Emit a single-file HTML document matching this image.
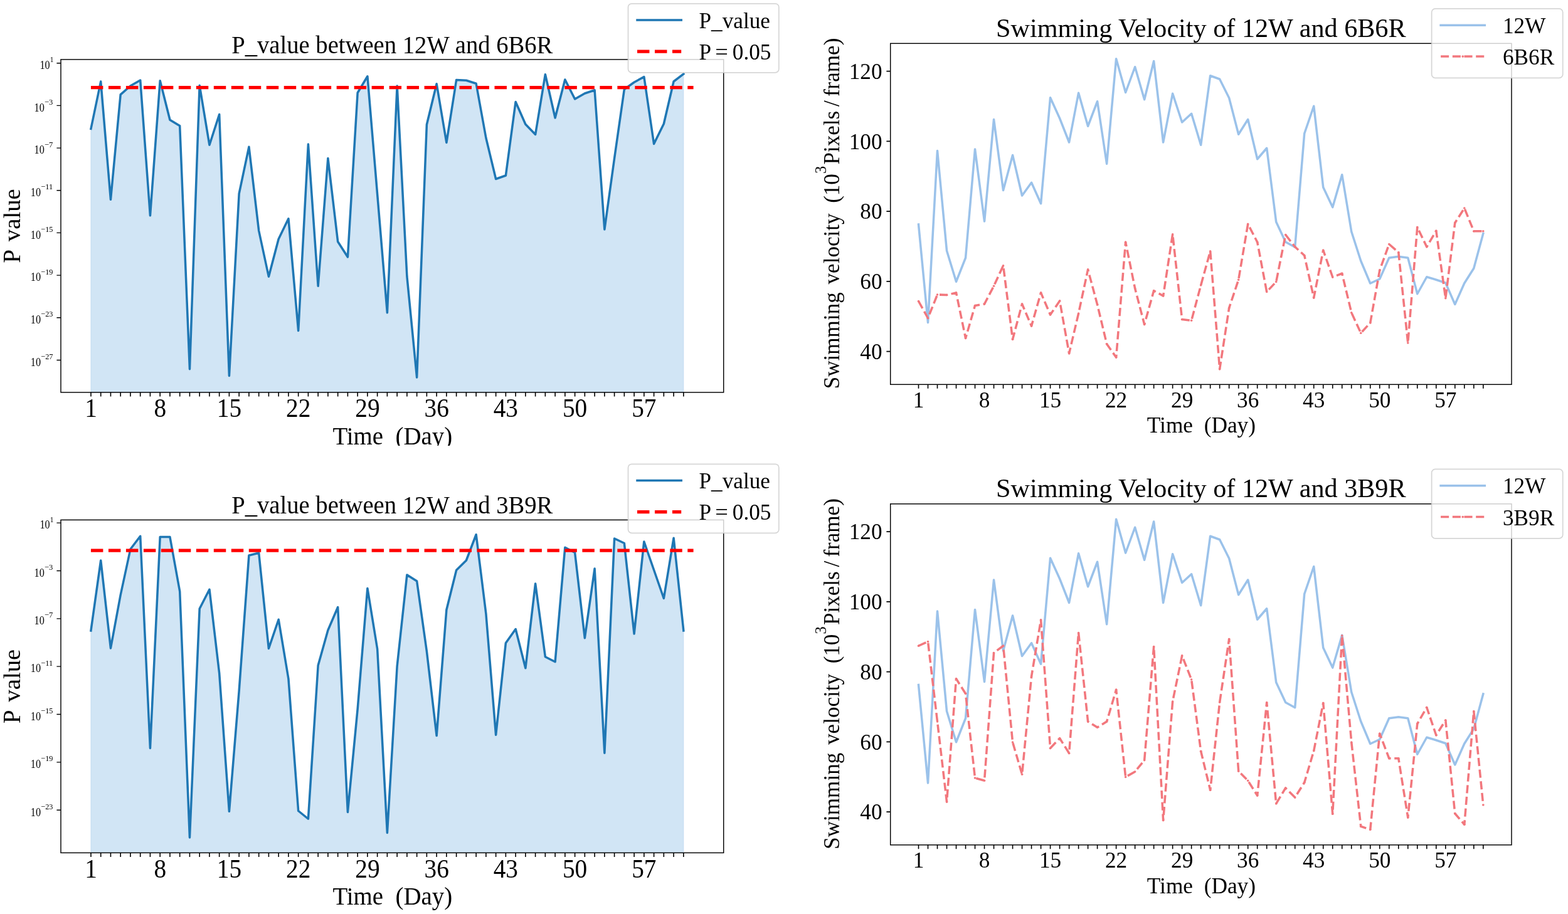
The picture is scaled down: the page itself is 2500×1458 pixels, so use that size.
<!DOCTYPE html>
<html lang="en"><head><meta charset="utf-8"><title>P value and swimming velocity</title>
<style>html,body{margin:0;padding:0;background:#fff}body{width:2500px;height:1458px;overflow:hidden}svg{display:block}text{font-family:'Liberation Serif',serif;fill:#000}</style>
</head><body>
<svg xmlns="http://www.w3.org/2000/svg" width="2500" height="1458" viewBox="0 0 2500 1458">
<defs><clipPath id="cl"><rect x="0" y="0" width="1250" height="711"/></clipPath></defs>
<rect width="2500" height="1458" fill="#fff"/>
<g>
<polygon points="144.95,625.9 144.95,205.5 160.7,130 176.45,318.3 192.19,150.8 207.94,137 223.69,128 239.44,343.8 255.19,128.8 270.93,191.3 286.68,200.8 302.43,588.75 318.18,136.3 333.93,231.3 349.67,182.5 365.42,599.5 381.17,308.8 396.92,234.3 412.67,368 428.41,441.25 444.16,381.25 459.91,348.75 475.66,527.5 491.41,230 507.15,456.25 522.9,252.5 538.65,385.5 554.4,410 570.15,148 585.89,121.75 601.64,310 617.39,498.75 633.14,137 648.89,441 664.63,602 680.38,198.75 696.13,133.75 711.88,227.5 727.63,127.5 743.37,128.25 759.12,133.25 774.87,220 790.62,285.5 806.37,280 822.11,162.5 837.86,198.25 853.61,214.5 869.36,118.75 885.11,188 900.85,127 916.6,158 932.35,149 948.1,143.75 963.85,366 979.59,252.5 995.34,142.5 1011.09,131.25 1026.84,122.5 1042.59,229.5 1058.33,197.5 1074.08,130 1089.83,118 1089.83,625.9" fill="#a4cbeb" fill-opacity="0.5" stroke="#a4cbeb" stroke-opacity="0.5" stroke-width="1"/>
<polyline points="144.95,205.5 160.7,130 176.45,318.3 192.19,150.8 207.94,137 223.69,128 239.44,343.8 255.19,128.8 270.93,191.3 286.68,200.8 302.43,588.75 318.18,136.3 333.93,231.3 349.67,182.5 365.42,599.5 381.17,308.8 396.92,234.3 412.67,368 428.41,441.25 444.16,381.25 459.91,348.75 475.66,527.5 491.41,230 507.15,456.25 522.9,252.5 538.65,385.5 554.4,410 570.15,148 585.89,121.75 601.64,310 617.39,498.75 633.14,137 648.89,441 664.63,602 680.38,198.75 696.13,133.75 711.88,227.5 727.63,127.5 743.37,128.25 759.12,133.25 774.87,220 790.62,285.5 806.37,280 822.11,162.5 837.86,198.25 853.61,214.5 869.36,118.75 885.11,188 900.85,127 916.6,158 932.35,149 948.1,143.75 963.85,366 979.59,252.5 995.34,142.5 1011.09,131.25 1026.84,122.5 1042.59,229.5 1058.33,197.5 1074.08,130 1089.83,118" fill="none" stroke="#1f77b4" stroke-width="3.53" stroke-linejoin="round" stroke-linecap="square"/>
<line x1="144.95" y1="139.63" x2="1105.58" y2="139.63" stroke="#ff0000" stroke-width="5.3" stroke-dasharray="19.45 8.53"/>
<rect x="97" y="94.9" width="1056.7" height="531" fill="none" stroke="#000" stroke-width="1.45"/>
<path d="M144.95 625.9v6.6M160.7 625.9v6.6M176.45 625.9v6.6M192.19 625.9v6.6M207.94 625.9v6.6M223.69 625.9v6.6M239.44 625.9v6.6M255.19 625.9v6.6M270.93 625.9v6.6M286.68 625.9v6.6M302.43 625.9v6.6M318.18 625.9v6.6M333.93 625.9v6.6M349.67 625.9v6.6M365.42 625.9v6.6M381.17 625.9v6.6M396.92 625.9v6.6M412.67 625.9v6.6M428.41 625.9v6.6M444.16 625.9v6.6M459.91 625.9v6.6M475.66 625.9v6.6M491.41 625.9v6.6M507.15 625.9v6.6M522.9 625.9v6.6M538.65 625.9v6.6M554.4 625.9v6.6M570.15 625.9v6.6M585.89 625.9v6.6M601.64 625.9v6.6M617.39 625.9v6.6M633.14 625.9v6.6M648.89 625.9v6.6M664.63 625.9v6.6M680.38 625.9v6.6M696.13 625.9v6.6M711.88 625.9v6.6M727.63 625.9v6.6M743.37 625.9v6.6M759.12 625.9v6.6M774.87 625.9v6.6M790.62 625.9v6.6M806.37 625.9v6.6M822.11 625.9v6.6M837.86 625.9v6.6M853.61 625.9v6.6M869.36 625.9v6.6M885.11 625.9v6.6M900.85 625.9v6.6M916.6 625.9v6.6M932.35 625.9v6.6M948.1 625.9v6.6M963.85 625.9v6.6M979.59 625.9v6.6M995.34 625.9v6.6M1011.09 625.9v6.6M1026.84 625.9v6.6M1042.59 625.9v6.6M1058.33 625.9v6.6M1074.08 625.9v6.6M1089.83 625.9v6.6" stroke="#000" stroke-width="1.6" fill="none"/>
<text transform="translate(144.95 665) scale(1 1.05)" font-size="39.3" text-anchor="middle">1</text>
<text transform="translate(255.19 665) scale(1 1.05)" font-size="39.3" text-anchor="middle">8</text>
<text transform="translate(365.42 665) scale(1 1.05)" font-size="39.3" text-anchor="middle">15</text>
<text transform="translate(475.66 665) scale(1 1.05)" font-size="39.3" text-anchor="middle">22</text>
<text transform="translate(585.89 665) scale(1 1.05)" font-size="39.3" text-anchor="middle">29</text>
<text transform="translate(696.13 665) scale(1 1.05)" font-size="39.3" text-anchor="middle">36</text>
<text transform="translate(806.37 665) scale(1 1.05)" font-size="39.3" text-anchor="middle">43</text>
<text transform="translate(916.6 665) scale(1 1.05)" font-size="39.3" text-anchor="middle">50</text>
<text transform="translate(1026.84 665) scale(1 1.05)" font-size="39.3" text-anchor="middle">57</text>
<text transform="translate(85.6 99.2) scale(1 1.07)" font-size="12.4" text-anchor="end" textLength="5.75" lengthAdjust="spacingAndGlyphs">1</text>
<text transform="translate(79.65 110) scale(1 1.036)" font-size="17.6" text-anchor="end" textLength="16.2" lengthAdjust="spacingAndGlyphs">10</text>
<text transform="translate(84.4 166.88) scale(1 1.07)" font-size="12.4" text-anchor="end" textLength="13.44" lengthAdjust="spacingAndGlyphs">−3</text>
<text transform="translate(70.76 177.68) scale(1 1.036)" font-size="17.6" text-anchor="end" textLength="16.2" lengthAdjust="spacingAndGlyphs">10</text>
<text transform="translate(84.4 234.56) scale(1 1.07)" font-size="12.4" text-anchor="end" textLength="13.44" lengthAdjust="spacingAndGlyphs">−7</text>
<text transform="translate(70.76 245.36) scale(1 1.036)" font-size="17.6" text-anchor="end" textLength="16.2" lengthAdjust="spacingAndGlyphs">10</text>
<text transform="translate(84.4 302.24) scale(1 1.07)" font-size="12.4" text-anchor="end" textLength="19.19" lengthAdjust="spacingAndGlyphs">−11</text>
<text transform="translate(65.01 313.04) scale(1 1.036)" font-size="17.6" text-anchor="end" textLength="16.2" lengthAdjust="spacingAndGlyphs">10</text>
<text transform="translate(84.4 369.92) scale(1 1.07)" font-size="12.4" text-anchor="end" textLength="19.19" lengthAdjust="spacingAndGlyphs">−15</text>
<text transform="translate(65.01 380.72) scale(1 1.036)" font-size="17.6" text-anchor="end" textLength="16.2" lengthAdjust="spacingAndGlyphs">10</text>
<text transform="translate(84.4 437.6) scale(1 1.07)" font-size="12.4" text-anchor="end" textLength="19.19" lengthAdjust="spacingAndGlyphs">−19</text>
<text transform="translate(65.01 448.4) scale(1 1.036)" font-size="17.6" text-anchor="end" textLength="16.2" lengthAdjust="spacingAndGlyphs">10</text>
<text transform="translate(84.4 505.28) scale(1 1.07)" font-size="12.4" text-anchor="end" textLength="19.19" lengthAdjust="spacingAndGlyphs">−23</text>
<text transform="translate(65.01 516.08) scale(1 1.036)" font-size="17.6" text-anchor="end" textLength="16.2" lengthAdjust="spacingAndGlyphs">10</text>
<text transform="translate(84.4 572.96) scale(1 1.07)" font-size="12.4" text-anchor="end" textLength="19.19" lengthAdjust="spacingAndGlyphs">−27</text>
<text transform="translate(65.01 583.76) scale(1 1.036)" font-size="17.6" text-anchor="end" textLength="16.2" lengthAdjust="spacingAndGlyphs">10</text>
<path d="M97 100.7h-6.6M97 168.38h-6.6M97 236.06h-6.6M97 303.74h-6.6M97 371.42h-6.6M97 439.1h-6.6M97 506.78h-6.6M97 574.46h-6.6" stroke="#000" stroke-width="1.35" fill="none"/>
<text transform="translate(625.3 84.7) scale(1 1.02)" font-size="38.65" text-anchor="middle">P_value between 12W and 6B6R</text>
<g clip-path="url(#cl)">
<text transform="translate(625.8 708.7) scale(1 1.02)" font-size="38.9" text-anchor="middle">Time  (Day)</text>
</g>
<text transform="translate(32.4 419.5) rotate(-90) scale(1 1.03)" font-size="38.8" text-anchor="start">P</text>
<text transform="translate(32.4 385.2) rotate(-90)" font-size="38.8" text-anchor="start">value</text>
<rect x="1001.5" y="5.75" width="240.3" height="110.15" rx="5.8" ry="5.8" fill="#fff" fill-opacity="0.8" stroke="#ccc" stroke-opacity="0.8" stroke-width="1.75"/>
<line x1="1016" y1="32" x2="1086.2" y2="32" stroke="#1f77b4" stroke-width="3.53" stroke-linecap="square"/>
<line x1="1016" y1="82.15" x2="1086.2" y2="82.15" stroke="#ff0000" stroke-width="5.3" stroke-dasharray="19.45 8.53"/>
<text x="1114.5" y="44.9" font-size="35.2">P_value</text>
<text x="1114.5" y="94.8" font-size="35.2">P</text>
<text x="1150.6" y="94.8" font-size="35.2" text-anchor="middle" textLength="20.6" lengthAdjust="spacingAndGlyphs">=</text>
<text x="1167.8" y="94.8" font-size="35.2">0.05</text>
</g>
<g>
<polyline points="1464.5,358 1479.51,514.5 1494.51,240.5 1509.52,400 1524.52,449.25 1539.53,411.25 1554.53,238 1569.54,353 1584.54,190.5 1599.55,303.5 1614.55,247.5 1629.56,312 1644.56,291.25 1659.57,324.75 1674.57,155.75 1689.58,188.75 1704.58,227 1719.59,148.25 1734.59,201.25 1749.6,161.75 1764.6,261.25 1779.61,93.75 1794.61,147.5 1809.62,106.75 1824.62,158.75 1839.62,97.5 1854.63,227 1869.63,149.25 1884.64,195 1899.64,181.25 1914.65,231.25 1929.65,120.75 1944.66,126.25 1959.66,156.25 1974.67,214.25 1989.68,190.5 2004.68,253.75 2019.68,236.25 2034.69,354 2049.7,386 2064.7,394.2 2079.7,213 2094.71,169.25 2109.72,298.75 2124.72,330.6 2139.72,278.75 2154.73,369.5 2169.74,416.25 2184.74,452 2199.74,445 2214.75,411.25 2229.76,409.25 2244.76,411.25 2259.76,468.75 2274.77,441.75 2289.78,446.25 2304.78,451.25 2319.78,485.5 2334.79,451.75 2349.8,428 2364.8,372.5" fill="none" stroke="#9bc2ea" stroke-width="3.53" stroke-linejoin="round" stroke-linecap="square"/>
<polyline points="1464.5,480.5 1479.51,507.5 1494.51,470 1509.52,470.5 1524.52,467 1539.53,539.5 1554.53,487.5 1569.54,485 1584.54,456.25 1599.55,423.75 1614.55,541.25 1629.56,485 1644.56,520 1659.57,467 1674.57,502 1689.58,480 1704.58,563.75 1719.59,500 1734.59,430 1749.6,486 1764.6,548.75 1779.61,570 1794.61,386.25 1809.62,460 1824.62,517.5 1839.62,463.75 1854.63,472 1869.63,373.75 1884.64,509.5 1899.64,511.25 1914.65,455 1929.65,400.75 1944.66,588.75 1959.66,491.25 1974.67,446.25 1989.68,357.5 2004.68,386.25 2019.68,465.5 2034.69,449.5 2049.7,374.5 2064.7,393.75 2079.7,407.5 2094.71,475 2109.72,399.25 2124.72,442 2139.72,436.25 2154.73,498.75 2169.74,531.25 2184.74,515 2199.74,431.25 2214.75,389.5 2229.76,402.5 2244.76,547 2259.76,362.5 2274.77,393.75 2289.78,368.25 2304.78,475.75 2319.78,355.5 2334.79,332 2349.8,368.75 2364.8,368.75" fill="none" stroke="#f2777d" stroke-width="3.53" stroke-linejoin="round" stroke-dasharray="13.05 5.65"/>
<g fill="#f2777d"><circle cx="1464.5" cy="480.5" r="1.8"/><circle cx="1479.51" cy="507.5" r="1.8"/><circle cx="1494.51" cy="470" r="1.8"/><circle cx="1509.52" cy="470.5" r="1.8"/><circle cx="1524.52" cy="467" r="1.8"/><circle cx="1539.53" cy="539.5" r="1.8"/><circle cx="1554.53" cy="487.5" r="1.8"/><circle cx="1569.54" cy="485" r="1.8"/><circle cx="1584.54" cy="456.25" r="1.8"/><circle cx="1599.55" cy="423.75" r="1.8"/><circle cx="1614.55" cy="541.25" r="1.8"/><circle cx="1629.56" cy="485" r="1.8"/><circle cx="1644.56" cy="520" r="1.8"/><circle cx="1659.57" cy="467" r="1.8"/><circle cx="1674.57" cy="502" r="1.8"/><circle cx="1689.58" cy="480" r="1.8"/><circle cx="1704.58" cy="563.75" r="1.8"/><circle cx="1719.59" cy="500" r="1.8"/><circle cx="1734.59" cy="430" r="1.8"/><circle cx="1749.6" cy="486" r="1.8"/><circle cx="1764.6" cy="548.75" r="1.8"/><circle cx="1779.61" cy="570" r="1.8"/><circle cx="1794.61" cy="386.25" r="1.8"/><circle cx="1809.62" cy="460" r="1.8"/><circle cx="1824.62" cy="517.5" r="1.8"/><circle cx="1839.62" cy="463.75" r="1.8"/><circle cx="1854.63" cy="472" r="1.8"/><circle cx="1869.63" cy="373.75" r="1.8"/><circle cx="1884.64" cy="509.5" r="1.8"/><circle cx="1899.64" cy="511.25" r="1.8"/><circle cx="1914.65" cy="455" r="1.8"/><circle cx="1929.65" cy="400.75" r="1.8"/><circle cx="1944.66" cy="588.75" r="1.8"/><circle cx="1959.66" cy="491.25" r="1.8"/><circle cx="1974.67" cy="446.25" r="1.8"/><circle cx="1989.68" cy="357.5" r="1.8"/><circle cx="2004.68" cy="386.25" r="1.8"/><circle cx="2019.68" cy="465.5" r="1.8"/><circle cx="2034.69" cy="449.5" r="1.8"/><circle cx="2049.7" cy="374.5" r="1.8"/><circle cx="2064.7" cy="393.75" r="1.8"/><circle cx="2079.7" cy="407.5" r="1.8"/><circle cx="2094.71" cy="475" r="1.8"/><circle cx="2109.72" cy="399.25" r="1.8"/><circle cx="2124.72" cy="442" r="1.8"/><circle cx="2139.72" cy="436.25" r="1.8"/><circle cx="2154.73" cy="498.75" r="1.8"/><circle cx="2169.74" cy="531.25" r="1.8"/><circle cx="2184.74" cy="515" r="1.8"/><circle cx="2199.74" cy="431.25" r="1.8"/><circle cx="2214.75" cy="389.5" r="1.8"/><circle cx="2229.76" cy="402.5" r="1.8"/><circle cx="2244.76" cy="547" r="1.8"/><circle cx="2259.76" cy="362.5" r="1.8"/><circle cx="2274.77" cy="393.75" r="1.8"/><circle cx="2289.78" cy="368.25" r="1.8"/><circle cx="2304.78" cy="475.75" r="1.8"/><circle cx="2319.78" cy="355.5" r="1.8"/><circle cx="2334.79" cy="332" r="1.8"/><circle cx="2349.8" cy="368.75" r="1.8"/><circle cx="2364.8" cy="368.75" r="1.8"/></g>
<rect x="1419.7" y="69.3" width="990.3" height="544" fill="none" stroke="#000" stroke-width="1.45"/>
<path d="M1464.5 613.3v6.3999999999999995M1479.51 613.3v6.3999999999999995M1494.51 613.3v6.3999999999999995M1509.52 613.3v6.3999999999999995M1524.52 613.3v6.3999999999999995M1539.53 613.3v6.3999999999999995M1554.53 613.3v6.3999999999999995M1569.54 613.3v6.3999999999999995M1584.54 613.3v6.3999999999999995M1599.55 613.3v6.3999999999999995M1614.55 613.3v6.3999999999999995M1629.56 613.3v6.3999999999999995M1644.56 613.3v6.3999999999999995M1659.57 613.3v6.3999999999999995M1674.57 613.3v6.3999999999999995M1689.58 613.3v6.3999999999999995M1704.58 613.3v6.3999999999999995M1719.59 613.3v6.3999999999999995M1734.59 613.3v6.3999999999999995M1749.6 613.3v6.3999999999999995M1764.6 613.3v6.3999999999999995M1779.61 613.3v6.3999999999999995M1794.61 613.3v6.3999999999999995M1809.62 613.3v6.3999999999999995M1824.62 613.3v6.3999999999999995M1839.62 613.3v6.3999999999999995M1854.63 613.3v6.3999999999999995M1869.63 613.3v6.3999999999999995M1884.64 613.3v6.3999999999999995M1899.64 613.3v6.3999999999999995M1914.65 613.3v6.3999999999999995M1929.65 613.3v6.3999999999999995M1944.66 613.3v6.3999999999999995M1959.66 613.3v6.3999999999999995M1974.67 613.3v6.3999999999999995M1989.68 613.3v6.3999999999999995M2004.68 613.3v6.3999999999999995M2019.68 613.3v6.3999999999999995M2034.69 613.3v6.3999999999999995M2049.7 613.3v6.3999999999999995M2064.7 613.3v6.3999999999999995M2079.7 613.3v6.3999999999999995M2094.71 613.3v6.3999999999999995M2109.72 613.3v6.3999999999999995M2124.72 613.3v6.3999999999999995M2139.72 613.3v6.3999999999999995M2154.73 613.3v6.3999999999999995M2169.74 613.3v6.3999999999999995M2184.74 613.3v6.3999999999999995M2199.74 613.3v6.3999999999999995M2214.75 613.3v6.3999999999999995M2229.76 613.3v6.3999999999999995M2244.76 613.3v6.3999999999999995M2259.76 613.3v6.3999999999999995M2274.77 613.3v6.3999999999999995M2289.78 613.3v6.3999999999999995M2304.78 613.3v6.3999999999999995M2319.78 613.3v6.3999999999999995M2334.79 613.3v6.3999999999999995M2349.8 613.3v6.3999999999999995M2364.8 613.3v6.3999999999999995" stroke="#000" stroke-width="1.6" fill="none"/>
<text x="1464.5" y="649.9" font-size="35.2" text-anchor="middle">1</text>
<text x="1569.54" y="649.9" font-size="35.2" text-anchor="middle">8</text>
<text x="1674.57" y="649.9" font-size="35.2" text-anchor="middle">15</text>
<text x="1779.61" y="649.9" font-size="35.2" text-anchor="middle">22</text>
<text x="1884.64" y="649.9" font-size="35.2" text-anchor="middle">29</text>
<text x="1989.68" y="649.9" font-size="35.2" text-anchor="middle">36</text>
<text x="2094.71" y="649.9" font-size="35.2" text-anchor="middle">43</text>
<text x="2199.74" y="649.9" font-size="35.2" text-anchor="middle">50</text>
<text x="2304.78" y="649.9" font-size="35.2" text-anchor="middle">57</text>
<text x="1406.5" y="572.95" font-size="35.2" text-anchor="end">40</text>
<text x="1406.5" y="461.2" font-size="35.2" text-anchor="end">60</text>
<text x="1406.5" y="349.45" font-size="35.2" text-anchor="end">80</text>
<text x="1406.5" y="237.7" font-size="35.2" text-anchor="end">100</text>
<text x="1406.5" y="125.95" font-size="35.2" text-anchor="end">120</text>
<path d="M1419.7 560.65h-6.3M1419.7 448.9h-6.3M1419.7 337.15h-6.3M1419.7 225.4h-6.3M1419.7 113.65h-6.3" stroke="#000" stroke-width="1.6" fill="none"/>
<text x="1914.85" y="58.9" font-size="42.2" text-anchor="middle">Swimming Velocity of 12W and 6B6R</text>
<text x="1915.4" y="690.4" font-size="35.3" text-anchor="middle">Time  (Day)</text>
<text transform="translate(1337.8 620.25) rotate(-90)" font-size="35.1" text-anchor="start">Swimming</text>
<text transform="translate(1337.8 453.45) rotate(-90)" font-size="35.1" text-anchor="start">velocity</text>
<text transform="translate(1337.8 323.85) rotate(-90)" font-size="35.1" text-anchor="start">(10</text>
<text transform="translate(1317.3 276.95) rotate(-90)" font-size="24.6" text-anchor="start">3</text>
<text transform="translate(1337.8 262.55) rotate(-90)" font-size="35.1" text-anchor="start">Pixels</text>
<text transform="translate(1337.8 170.05) rotate(-90)" font-size="35.1" text-anchor="start">/</text>
<text transform="translate(1337.8 154.1) rotate(-90)" font-size="35.1" text-anchor="start">frame)</text>
<rect x="2282.6" y="13.9" width="209.1" height="110.5" rx="5.8" ry="5.8" fill="#fff" fill-opacity="0.8" stroke="#ccc" stroke-opacity="0.8" stroke-width="1.75"/>
<line x1="2297.1" y1="40.15" x2="2367.3" y2="40.15" stroke="#9bc2ea" stroke-width="3.53" stroke-linecap="square"/>
<line x1="2297.1" y1="90.1" x2="2367.3" y2="90.1" stroke="#f2777d" stroke-width="3.53" stroke-dasharray="13.05 5.65"/>
<circle cx="2332.2" cy="90.1" r="1.8" fill="#f2777d"/>
<text x="2396" y="52.9" font-size="35.2">12W</text>
<text x="2396" y="103.4" font-size="35.2">6B6R</text>
</g>
<g>
<polygon points="144.95,1360.4 144.95,1006 160.7,894 176.45,1034 192.19,949 207.94,876 223.69,855.25 239.44,1193.5 255.19,856.5 270.93,856.5 286.68,943.5 302.43,1336 318.18,971 333.93,940.25 349.67,1074 365.42,1294.25 381.17,1102 396.92,886 412.67,882 428.41,1034.5 444.16,988.25 459.91,1082.75 475.66,1293.5 491.41,1306.25 507.15,1061.5 522.9,1005.25 538.65,968.5 554.4,1295.5 570.15,1131 585.89,938.5 601.64,1035.25 617.39,1328.5 633.14,1062.75 648.89,917 664.63,927 680.38,1039 696.13,1173.5 711.88,972.75 727.63,909.5 743.37,894 759.12,852.75 774.87,979 790.62,1172.25 806.37,1025.75 822.11,1003.5 837.86,1065.75 853.61,931 869.36,1047.75 885.11,1055.75 900.85,873.25 916.6,881.5 932.35,1017.75 948.1,907 963.85,1201.25 979.59,859 995.34,866.5 1011.09,1011 1026.84,864 1042.59,909.25 1058.33,954.5 1074.08,858.25 1089.83,1006 1089.83,1360.4" fill="#a4cbeb" fill-opacity="0.5" stroke="#a4cbeb" stroke-opacity="0.5" stroke-width="1"/>
<polyline points="144.95,1006 160.7,894 176.45,1034 192.19,949 207.94,876 223.69,855.25 239.44,1193.5 255.19,856.5 270.93,856.5 286.68,943.5 302.43,1336 318.18,971 333.93,940.25 349.67,1074 365.42,1294.25 381.17,1102 396.92,886 412.67,882 428.41,1034.5 444.16,988.25 459.91,1082.75 475.66,1293.5 491.41,1306.25 507.15,1061.5 522.9,1005.25 538.65,968.5 554.4,1295.5 570.15,1131 585.89,938.5 601.64,1035.25 617.39,1328.5 633.14,1062.75 648.89,917 664.63,927 680.38,1039 696.13,1173.5 711.88,972.75 727.63,909.5 743.37,894 759.12,852.75 774.87,979 790.62,1172.25 806.37,1025.75 822.11,1003.5 837.86,1065.75 853.61,931 869.36,1047.75 885.11,1055.75 900.85,873.25 916.6,881.5 932.35,1017.75 948.1,907 963.85,1201.25 979.59,859 995.34,866.5 1011.09,1011 1026.84,864 1042.59,909.25 1058.33,954.5 1074.08,858.25 1089.83,1006" fill="none" stroke="#1f77b4" stroke-width="3.53" stroke-linejoin="round" stroke-linecap="square"/>
<line x1="144.95" y1="878.03" x2="1105.58" y2="878.03" stroke="#ff0000" stroke-width="5.3" stroke-dasharray="19.45 8.53"/>
<rect x="97" y="829.4" width="1056.7" height="531" fill="none" stroke="#000" stroke-width="1.45"/>
<path d="M144.95 1360.4v6.6M160.7 1360.4v6.6M176.45 1360.4v6.6M192.19 1360.4v6.6M207.94 1360.4v6.6M223.69 1360.4v6.6M239.44 1360.4v6.6M255.19 1360.4v6.6M270.93 1360.4v6.6M286.68 1360.4v6.6M302.43 1360.4v6.6M318.18 1360.4v6.6M333.93 1360.4v6.6M349.67 1360.4v6.6M365.42 1360.4v6.6M381.17 1360.4v6.6M396.92 1360.4v6.6M412.67 1360.4v6.6M428.41 1360.4v6.6M444.16 1360.4v6.6M459.91 1360.4v6.6M475.66 1360.4v6.6M491.41 1360.4v6.6M507.15 1360.4v6.6M522.9 1360.4v6.6M538.65 1360.4v6.6M554.4 1360.4v6.6M570.15 1360.4v6.6M585.89 1360.4v6.6M601.64 1360.4v6.6M617.39 1360.4v6.6M633.14 1360.4v6.6M648.89 1360.4v6.6M664.63 1360.4v6.6M680.38 1360.4v6.6M696.13 1360.4v6.6M711.88 1360.4v6.6M727.63 1360.4v6.6M743.37 1360.4v6.6M759.12 1360.4v6.6M774.87 1360.4v6.6M790.62 1360.4v6.6M806.37 1360.4v6.6M822.11 1360.4v6.6M837.86 1360.4v6.6M853.61 1360.4v6.6M869.36 1360.4v6.6M885.11 1360.4v6.6M900.85 1360.4v6.6M916.6 1360.4v6.6M932.35 1360.4v6.6M948.1 1360.4v6.6M963.85 1360.4v6.6M979.59 1360.4v6.6M995.34 1360.4v6.6M1011.09 1360.4v6.6M1026.84 1360.4v6.6M1042.59 1360.4v6.6M1058.33 1360.4v6.6M1074.08 1360.4v6.6M1089.83 1360.4v6.6" stroke="#000" stroke-width="1.6" fill="none"/>
<text transform="translate(144.95 1399.5) scale(1 1.05)" font-size="39.3" text-anchor="middle">1</text>
<text transform="translate(255.19 1399.5) scale(1 1.05)" font-size="39.3" text-anchor="middle">8</text>
<text transform="translate(365.42 1399.5) scale(1 1.05)" font-size="39.3" text-anchor="middle">15</text>
<text transform="translate(475.66 1399.5) scale(1 1.05)" font-size="39.3" text-anchor="middle">22</text>
<text transform="translate(585.89 1399.5) scale(1 1.05)" font-size="39.3" text-anchor="middle">29</text>
<text transform="translate(696.13 1399.5) scale(1 1.05)" font-size="39.3" text-anchor="middle">36</text>
<text transform="translate(806.37 1399.5) scale(1 1.05)" font-size="39.3" text-anchor="middle">43</text>
<text transform="translate(916.6 1399.5) scale(1 1.05)" font-size="39.3" text-anchor="middle">50</text>
<text transform="translate(1026.84 1399.5) scale(1 1.05)" font-size="39.3" text-anchor="middle">57</text>
<text transform="translate(85.6 832.6) scale(1 1.07)" font-size="12.4" text-anchor="end" textLength="5.75" lengthAdjust="spacingAndGlyphs">1</text>
<text transform="translate(79.65 843.4) scale(1 1.036)" font-size="17.6" text-anchor="end" textLength="16.2" lengthAdjust="spacingAndGlyphs">10</text>
<text transform="translate(84.4 908.96) scale(1 1.07)" font-size="12.4" text-anchor="end" textLength="13.44" lengthAdjust="spacingAndGlyphs">−3</text>
<text transform="translate(70.76 919.76) scale(1 1.036)" font-size="17.6" text-anchor="end" textLength="16.2" lengthAdjust="spacingAndGlyphs">10</text>
<text transform="translate(84.4 985.32) scale(1 1.07)" font-size="12.4" text-anchor="end" textLength="13.44" lengthAdjust="spacingAndGlyphs">−7</text>
<text transform="translate(70.76 996.12) scale(1 1.036)" font-size="17.6" text-anchor="end" textLength="16.2" lengthAdjust="spacingAndGlyphs">10</text>
<text transform="translate(84.4 1061.68) scale(1 1.07)" font-size="12.4" text-anchor="end" textLength="19.19" lengthAdjust="spacingAndGlyphs">−11</text>
<text transform="translate(65.01 1072.48) scale(1 1.036)" font-size="17.6" text-anchor="end" textLength="16.2" lengthAdjust="spacingAndGlyphs">10</text>
<text transform="translate(84.4 1138.04) scale(1 1.07)" font-size="12.4" text-anchor="end" textLength="19.19" lengthAdjust="spacingAndGlyphs">−15</text>
<text transform="translate(65.01 1148.84) scale(1 1.036)" font-size="17.6" text-anchor="end" textLength="16.2" lengthAdjust="spacingAndGlyphs">10</text>
<text transform="translate(84.4 1214.4) scale(1 1.07)" font-size="12.4" text-anchor="end" textLength="19.19" lengthAdjust="spacingAndGlyphs">−19</text>
<text transform="translate(65.01 1225.2) scale(1 1.036)" font-size="17.6" text-anchor="end" textLength="16.2" lengthAdjust="spacingAndGlyphs">10</text>
<text transform="translate(84.4 1290.76) scale(1 1.07)" font-size="12.4" text-anchor="end" textLength="19.19" lengthAdjust="spacingAndGlyphs">−23</text>
<text transform="translate(65.01 1301.56) scale(1 1.036)" font-size="17.6" text-anchor="end" textLength="16.2" lengthAdjust="spacingAndGlyphs">10</text>
<path d="M97 834.1h-6.6M97 910.46h-6.6M97 986.82h-6.6M97 1063.18h-6.6M97 1139.54h-6.6M97 1215.9h-6.6M97 1292.26h-6.6" stroke="#000" stroke-width="1.35" fill="none"/>
<text transform="translate(625.3 819.2) scale(1 1.02)" font-size="38.65" text-anchor="middle">P_value between 12W and 3B9R</text>
<text transform="translate(625.8 1443.2) scale(1 1.02)" font-size="38.9" text-anchor="middle">Time  (Day)</text>
<text transform="translate(32.4 1154) rotate(-90) scale(1 1.03)" font-size="38.8" text-anchor="start">P</text>
<text transform="translate(32.4 1119.7) rotate(-90)" font-size="38.8" text-anchor="start">value</text>
<rect x="1001.5" y="740.25" width="240.3" height="110.15" rx="5.8" ry="5.8" fill="#fff" fill-opacity="0.8" stroke="#ccc" stroke-opacity="0.8" stroke-width="1.75"/>
<line x1="1016" y1="766.5" x2="1086.2" y2="766.5" stroke="#1f77b4" stroke-width="3.53" stroke-linecap="square"/>
<line x1="1016" y1="816.65" x2="1086.2" y2="816.65" stroke="#ff0000" stroke-width="5.3" stroke-dasharray="19.45 8.53"/>
<text x="1114.5" y="779.4" font-size="35.2">P_value</text>
<text x="1114.5" y="829.3" font-size="35.2">P</text>
<text x="1150.6" y="829.3" font-size="35.2" text-anchor="middle" textLength="20.6" lengthAdjust="spacingAndGlyphs">=</text>
<text x="1167.8" y="829.3" font-size="35.2">0.05</text>
</g>
<g>
<polyline points="1464.5,1092.5 1479.51,1249 1494.51,975 1509.52,1134.5 1524.52,1183.75 1539.53,1145.75 1554.53,972.5 1569.54,1087.5 1584.54,925 1599.55,1038 1614.55,982 1629.56,1046.5 1644.56,1025.75 1659.57,1059.25 1674.57,890.25 1689.58,923.25 1704.58,961.5 1719.59,882.75 1734.59,935.75 1749.6,896.25 1764.6,995.75 1779.61,828.25 1794.61,882 1809.62,841.25 1824.62,893.25 1839.62,832 1854.63,961.5 1869.63,883.75 1884.64,929.5 1899.64,915.75 1914.65,965.75 1929.65,855.25 1944.66,860.75 1959.66,890.75 1974.67,948.75 1989.68,925 2004.68,988.25 2019.68,970.75 2034.69,1088.5 2049.7,1120.5 2064.7,1128.7 2079.7,947.5 2094.71,903.75 2109.72,1033.25 2124.72,1065.1 2139.72,1013.25 2154.73,1104 2169.74,1150.75 2184.74,1186.5 2199.74,1179.5 2214.75,1145.75 2229.76,1143.75 2244.76,1145.75 2259.76,1203.25 2274.77,1176.25 2289.78,1180.75 2304.78,1185.75 2319.78,1220 2334.79,1186.25 2349.8,1162.5 2364.8,1107" fill="none" stroke="#9bc2ea" stroke-width="3.53" stroke-linejoin="round" stroke-linecap="square"/>
<polyline points="1464.5,1030.25 1479.51,1023.5 1494.51,1151 1509.52,1279 1524.52,1082.75 1539.53,1106.5 1554.53,1241 1569.54,1245.25 1584.54,1041.5 1599.55,1030.25 1614.55,1184 1629.56,1235.25 1644.56,1079 1659.57,989 1674.57,1193.5 1689.58,1177.75 1704.58,1201.5 1719.59,1009.5 1734.59,1151 1749.6,1160.25 1764.6,1151 1779.61,1100.25 1794.61,1239.5 1809.62,1231 1824.62,1212.75 1839.62,1031.5 1854.63,1308.5 1869.63,1119 1884.64,1046 1899.64,1084 1914.65,1198.25 1929.65,1260.25 1944.66,1120.25 1959.66,1019.5 1974.67,1230.25 1989.68,1245.25 2004.68,1269 2019.68,1120.75 2034.69,1282 2049.7,1257 2064.7,1272 2079.7,1248.25 2094.71,1197.75 2109.72,1121.5 2124.72,1298.25 2139.72,1014 2154.73,1184 2169.74,1318.25 2184.74,1323.25 2199.74,1170.25 2214.75,1209.75 2229.76,1209.75 2244.76,1304 2259.76,1154.5 2274.77,1128.5 2289.78,1172.75 2304.78,1149 2319.78,1297.75 2334.79,1315.25 2349.8,1134.75 2364.8,1284" fill="none" stroke="#f2777d" stroke-width="3.53" stroke-linejoin="round" stroke-dasharray="13.05 5.65"/>
<g fill="#f2777d"><circle cx="1464.5" cy="1030.25" r="1.8"/><circle cx="1479.51" cy="1023.5" r="1.8"/><circle cx="1494.51" cy="1151" r="1.8"/><circle cx="1509.52" cy="1279" r="1.8"/><circle cx="1524.52" cy="1082.75" r="1.8"/><circle cx="1539.53" cy="1106.5" r="1.8"/><circle cx="1554.53" cy="1241" r="1.8"/><circle cx="1569.54" cy="1245.25" r="1.8"/><circle cx="1584.54" cy="1041.5" r="1.8"/><circle cx="1599.55" cy="1030.25" r="1.8"/><circle cx="1614.55" cy="1184" r="1.8"/><circle cx="1629.56" cy="1235.25" r="1.8"/><circle cx="1644.56" cy="1079" r="1.8"/><circle cx="1659.57" cy="989" r="1.8"/><circle cx="1674.57" cy="1193.5" r="1.8"/><circle cx="1689.58" cy="1177.75" r="1.8"/><circle cx="1704.58" cy="1201.5" r="1.8"/><circle cx="1719.59" cy="1009.5" r="1.8"/><circle cx="1734.59" cy="1151" r="1.8"/><circle cx="1749.6" cy="1160.25" r="1.8"/><circle cx="1764.6" cy="1151" r="1.8"/><circle cx="1779.61" cy="1100.25" r="1.8"/><circle cx="1794.61" cy="1239.5" r="1.8"/><circle cx="1809.62" cy="1231" r="1.8"/><circle cx="1824.62" cy="1212.75" r="1.8"/><circle cx="1839.62" cy="1031.5" r="1.8"/><circle cx="1854.63" cy="1308.5" r="1.8"/><circle cx="1869.63" cy="1119" r="1.8"/><circle cx="1884.64" cy="1046" r="1.8"/><circle cx="1899.64" cy="1084" r="1.8"/><circle cx="1914.65" cy="1198.25" r="1.8"/><circle cx="1929.65" cy="1260.25" r="1.8"/><circle cx="1944.66" cy="1120.25" r="1.8"/><circle cx="1959.66" cy="1019.5" r="1.8"/><circle cx="1974.67" cy="1230.25" r="1.8"/><circle cx="1989.68" cy="1245.25" r="1.8"/><circle cx="2004.68" cy="1269" r="1.8"/><circle cx="2019.68" cy="1120.75" r="1.8"/><circle cx="2034.69" cy="1282" r="1.8"/><circle cx="2049.7" cy="1257" r="1.8"/><circle cx="2064.7" cy="1272" r="1.8"/><circle cx="2079.7" cy="1248.25" r="1.8"/><circle cx="2094.71" cy="1197.75" r="1.8"/><circle cx="2109.72" cy="1121.5" r="1.8"/><circle cx="2124.72" cy="1298.25" r="1.8"/><circle cx="2139.72" cy="1014" r="1.8"/><circle cx="2154.73" cy="1184" r="1.8"/><circle cx="2169.74" cy="1318.25" r="1.8"/><circle cx="2184.74" cy="1323.25" r="1.8"/><circle cx="2199.74" cy="1170.25" r="1.8"/><circle cx="2214.75" cy="1209.75" r="1.8"/><circle cx="2229.76" cy="1209.75" r="1.8"/><circle cx="2244.76" cy="1304" r="1.8"/><circle cx="2259.76" cy="1154.5" r="1.8"/><circle cx="2274.77" cy="1128.5" r="1.8"/><circle cx="2289.78" cy="1172.75" r="1.8"/><circle cx="2304.78" cy="1149" r="1.8"/><circle cx="2319.78" cy="1297.75" r="1.8"/><circle cx="2334.79" cy="1315.25" r="1.8"/><circle cx="2349.8" cy="1134.75" r="1.8"/><circle cx="2364.8" cy="1284" r="1.8"/></g>
<rect x="1419.7" y="803.8" width="990.3" height="544" fill="none" stroke="#000" stroke-width="1.45"/>
<path d="M1464.5 1347.8v6.3999999999999995M1479.51 1347.8v6.3999999999999995M1494.51 1347.8v6.3999999999999995M1509.52 1347.8v6.3999999999999995M1524.52 1347.8v6.3999999999999995M1539.53 1347.8v6.3999999999999995M1554.53 1347.8v6.3999999999999995M1569.54 1347.8v6.3999999999999995M1584.54 1347.8v6.3999999999999995M1599.55 1347.8v6.3999999999999995M1614.55 1347.8v6.3999999999999995M1629.56 1347.8v6.3999999999999995M1644.56 1347.8v6.3999999999999995M1659.57 1347.8v6.3999999999999995M1674.57 1347.8v6.3999999999999995M1689.58 1347.8v6.3999999999999995M1704.58 1347.8v6.3999999999999995M1719.59 1347.8v6.3999999999999995M1734.59 1347.8v6.3999999999999995M1749.6 1347.8v6.3999999999999995M1764.6 1347.8v6.3999999999999995M1779.61 1347.8v6.3999999999999995M1794.61 1347.8v6.3999999999999995M1809.62 1347.8v6.3999999999999995M1824.62 1347.8v6.3999999999999995M1839.62 1347.8v6.3999999999999995M1854.63 1347.8v6.3999999999999995M1869.63 1347.8v6.3999999999999995M1884.64 1347.8v6.3999999999999995M1899.64 1347.8v6.3999999999999995M1914.65 1347.8v6.3999999999999995M1929.65 1347.8v6.3999999999999995M1944.66 1347.8v6.3999999999999995M1959.66 1347.8v6.3999999999999995M1974.67 1347.8v6.3999999999999995M1989.68 1347.8v6.3999999999999995M2004.68 1347.8v6.3999999999999995M2019.68 1347.8v6.3999999999999995M2034.69 1347.8v6.3999999999999995M2049.7 1347.8v6.3999999999999995M2064.7 1347.8v6.3999999999999995M2079.7 1347.8v6.3999999999999995M2094.71 1347.8v6.3999999999999995M2109.72 1347.8v6.3999999999999995M2124.72 1347.8v6.3999999999999995M2139.72 1347.8v6.3999999999999995M2154.73 1347.8v6.3999999999999995M2169.74 1347.8v6.3999999999999995M2184.74 1347.8v6.3999999999999995M2199.74 1347.8v6.3999999999999995M2214.75 1347.8v6.3999999999999995M2229.76 1347.8v6.3999999999999995M2244.76 1347.8v6.3999999999999995M2259.76 1347.8v6.3999999999999995M2274.77 1347.8v6.3999999999999995M2289.78 1347.8v6.3999999999999995M2304.78 1347.8v6.3999999999999995M2319.78 1347.8v6.3999999999999995M2334.79 1347.8v6.3999999999999995M2349.8 1347.8v6.3999999999999995M2364.8 1347.8v6.3999999999999995" stroke="#000" stroke-width="1.6" fill="none"/>
<text x="1464.5" y="1384.4" font-size="35.2" text-anchor="middle">1</text>
<text x="1569.54" y="1384.4" font-size="35.2" text-anchor="middle">8</text>
<text x="1674.57" y="1384.4" font-size="35.2" text-anchor="middle">15</text>
<text x="1779.61" y="1384.4" font-size="35.2" text-anchor="middle">22</text>
<text x="1884.64" y="1384.4" font-size="35.2" text-anchor="middle">29</text>
<text x="1989.68" y="1384.4" font-size="35.2" text-anchor="middle">36</text>
<text x="2094.71" y="1384.4" font-size="35.2" text-anchor="middle">43</text>
<text x="2199.74" y="1384.4" font-size="35.2" text-anchor="middle">50</text>
<text x="2304.78" y="1384.4" font-size="35.2" text-anchor="middle">57</text>
<text x="1406.5" y="1307.45" font-size="35.2" text-anchor="end">40</text>
<text x="1406.5" y="1195.7" font-size="35.2" text-anchor="end">60</text>
<text x="1406.5" y="1083.95" font-size="35.2" text-anchor="end">80</text>
<text x="1406.5" y="972.2" font-size="35.2" text-anchor="end">100</text>
<text x="1406.5" y="860.45" font-size="35.2" text-anchor="end">120</text>
<path d="M1419.7 1295.15h-6.3M1419.7 1183.4h-6.3M1419.7 1071.65h-6.3M1419.7 959.9h-6.3M1419.7 848.15h-6.3" stroke="#000" stroke-width="1.6" fill="none"/>
<text x="1914.85" y="793.4" font-size="42.2" text-anchor="middle">Swimming Velocity of 12W and 3B9R</text>
<text x="1915.4" y="1424.9" font-size="35.3" text-anchor="middle">Time  (Day)</text>
<text transform="translate(1337.8 1354.75) rotate(-90)" font-size="35.1" text-anchor="start">Swimming</text>
<text transform="translate(1337.8 1187.95) rotate(-90)" font-size="35.1" text-anchor="start">velocity</text>
<text transform="translate(1337.8 1058.35) rotate(-90)" font-size="35.1" text-anchor="start">(10</text>
<text transform="translate(1317.3 1011.45) rotate(-90)" font-size="24.6" text-anchor="start">3</text>
<text transform="translate(1337.8 997.05) rotate(-90)" font-size="35.1" text-anchor="start">Pixels</text>
<text transform="translate(1337.8 904.55) rotate(-90)" font-size="35.1" text-anchor="start">/</text>
<text transform="translate(1337.8 888.6) rotate(-90)" font-size="35.1" text-anchor="start">frame)</text>
<rect x="2282.6" y="748.4" width="209.1" height="110.5" rx="5.8" ry="5.8" fill="#fff" fill-opacity="0.8" stroke="#ccc" stroke-opacity="0.8" stroke-width="1.75"/>
<line x1="2297.1" y1="774.65" x2="2367.3" y2="774.65" stroke="#9bc2ea" stroke-width="3.53" stroke-linecap="square"/>
<line x1="2297.1" y1="824.6" x2="2367.3" y2="824.6" stroke="#f2777d" stroke-width="3.53" stroke-dasharray="13.05 5.65"/>
<circle cx="2332.2" cy="824.6" r="1.8" fill="#f2777d"/>
<text x="2396" y="787.4" font-size="35.2">12W</text>
<text x="2396" y="837.9" font-size="35.2">3B9R</text>
</g>
</svg></body></html>
